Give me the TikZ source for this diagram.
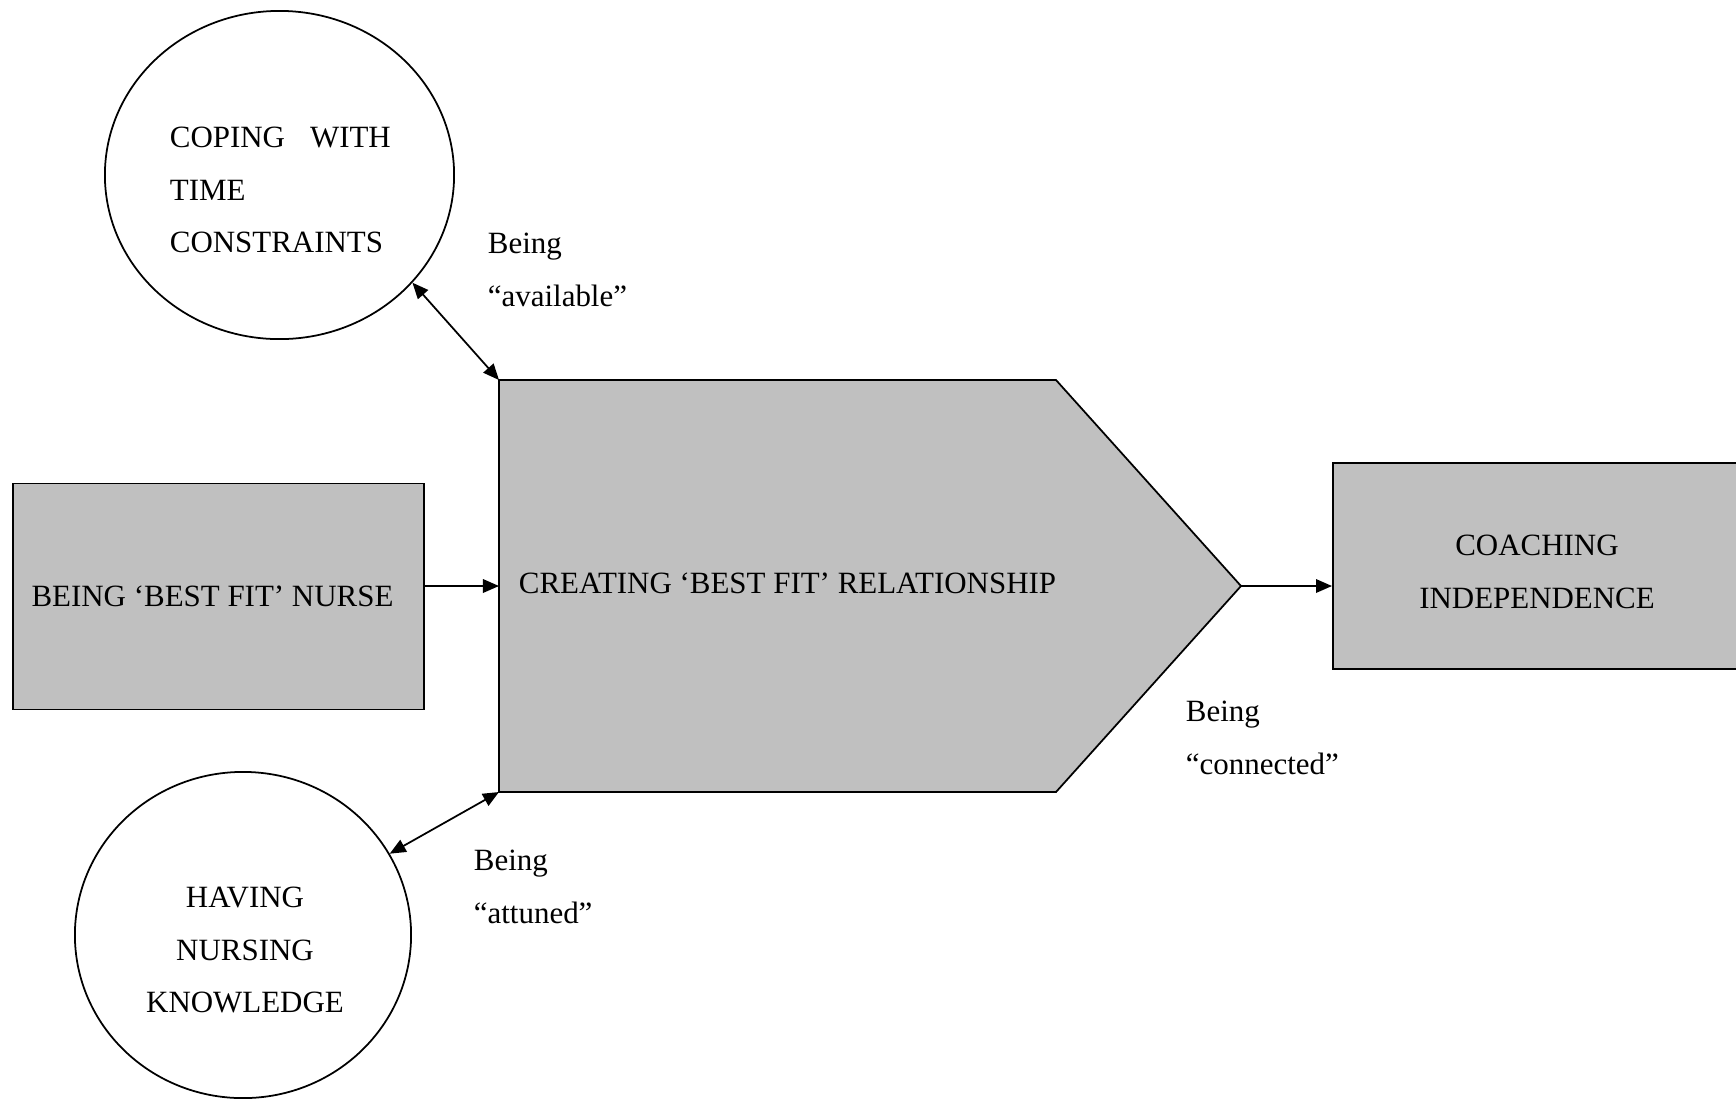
\documentclass[tikz,border=0pt]{standalone}
\usepackage{fontspec}
\setmainfont{Liberation Serif}
\usepackage{xcolor}
\usepackage{tikz}
\usetikzlibrary{shapes.geometric}
\usetikzlibrary{arrows.meta}
\definecolor{boxgray}{RGB}{192,192,192}

\begin{document}
\begin{tikzpicture}[x=0.01cm, y=-0.01cm, line width=0.5pt,
  >={Triangle[length=1.6mm,width=1.35mm]},
  every node/.style={font=\fontsize{8.8}{15}\selectfont, inner sep=0pt},
  bubble/.style={draw, ellipse, fill=white},
  block/.style={draw, fill=boxgray, align=center},
  lbl/.style={anchor=north west, align=left}]
  \useasboundingbox (0,0) rectangle (1736,1099);
  \clip (0,0) rectangle (1736,1099);
  % the central pentagon
  \coordinate (relNW) at (499,380);
  \coordinate (relSW) at (499,792);
  \coordinate (relW) at (499,586);
  \coordinate (relTip) at (1241,586);
  \draw[fill=boxgray] (relNW) -- (1056,380) -- (relTip) -- (1056,792) -- (relSW) -- cycle;
  \node (reltext) [anchor=base west] at (518,593) {CREATING `BEST FIT' RELATIONSHIP};
  % boxes and circles
  \node (nurse) [block, minimum width=4.11cm, minimum height=2.26cm] at (218.5,596.5) {BEING `BEST FIT' NURSE\hspace{0.12cm}};
  \node (coach) [block, minimum width=4.08cm, minimum height=2.06cm] at (1537,566) {\rule{0pt}{0.32cm}COACHING\\INDEPENDENCE};
  \node (time) [bubble, minimum width=3.49cm, minimum height=3.28cm] at (279.5,175) {};
  \node (timetext) [lbl] at (169,126) {COPING\hspace{0.25cm}WITH\\TIME\\CONSTRAINTS};
  \node (know) [bubble, minimum width=3.36cm, minimum height=3.26cm] at (243,935) {};
  \node (knowtext) [anchor=north, align=center] at (245,886) {HAVING\\NURSING\\KNOWLEDGE};
  % labels
  \node (availlbl) [lbl] at (487,232) {Being\\``available''};
  \node (attlbl) [lbl] at (473,849) {Being\\``attuned''};
  \node (connlbl) [lbl] at (1185,700) {Being\\``connected''};
  % connectors
  \draw[->] (nurse.east |- relW) -- (relW);
  \draw[->] (relTip) -- (coach.west |- relTip);
  \draw[<->] (time.-39) -- (relNW);
  \draw[<->] (know.29) -- (relSW);
\end{tikzpicture}
\end{document}
